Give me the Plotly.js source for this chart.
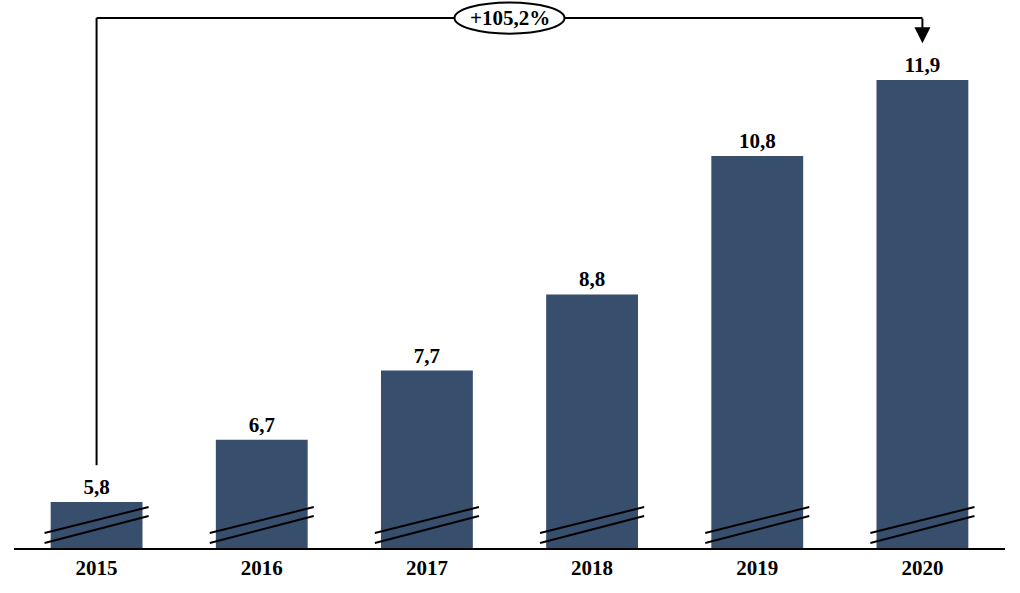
<!DOCTYPE html>
<html>
<head>
<meta charset="utf-8">
<script src="https://cdn.plot.ly/plotly-3.0.1.min.js"></script>
<style>html,body{margin:0;padding:0;background:#fff;}#chart{width:1020px;height:593px;}</style>
</head>
<body>
<div id="chart"></div>
<script>
const years = ['2015', '2016', '2017', '2018', '2019', '2020'];
const values = [5.8, 6.7, 7.7, 8.8, 10.8, 11.9];

const barColor = '#374e6d';
const fontFam = '"Liberation Serif", "Times New Roman", serif';
const yMin = 5.135, yMax = 13.055;

const first = values[0], last = values[values.length - 1];
const growth = (last / first - 1) * 100;
const growthText = '+' + growth.toFixed(1).replace('.', ',') + '%';

const shapes = [];
// broken-axis marks on each bar
years.forEach((y, i) => {
  const x0 = i - 0.315, x1 = i + 0.315;
  shapes.push({type: 'line', xref: 'x', yref: 'y', x0: x0, x1: x1, y0: 5.352, y1: 5.727,
    line: {color: '#000', width: 2}});
  shapes.push({type: 'line', xref: 'x', yref: 'y', x0: x0, x1: x1, y0: 5.207, y1: 5.597,
    line: {color: '#000', width: 2}});
});
const n = years.length - 1;
const topY = 12.794;
// bracket
shapes.push({type: 'line', xref: 'x', yref: 'y', x0: 0, x1: 0, y0: first + 0.53, y1: topY,
  line: {color: '#000', width: 2}});
shapes.push({type: 'line', xref: 'x', yref: 'y', x0: 0, x1: n, y0: topY, y1: topY,
  line: {color: '#000', width: 2}});
shapes.push({type: 'circle', xref: 'x', yref: 'y', x0: n / 2 - 0.333, x1: n / 2 + 0.333,
  y0: topY - 0.225, y1: topY + 0.225, fillcolor: '#fff', line: {color: '#000', width: 2}});

const annotations = [
  {x: n / 2, y: topY, xref: 'x', yref: 'y', text: growthText, showarrow: false,
   font: {family: fontFam, size: 21, color: '#000', weight: 'bold'}},
  {x: n, y: last + 0.53, xref: 'x', yref: 'y', ax: n, ay: topY + 0.015, axref: 'x', ayref: 'y',
   showarrow: true, arrowhead: 2, arrowsize: 1.6, arrowwidth: 2, arrowcolor: '#000', text: ''}
];

const trace = {
  type: 'bar', x: years, y: values,
  marker: {color: barColor},
  width: 0.556,
  text: values.map(v => v.toFixed(1).replace('.', ',')),
  textposition: 'outside',
  cliponaxis: false,
  textfont: {family: fontFam, size: 21, color: '#000', weight: 'bold'},
  hoverinfo: 'none'
};

const layout = {
  width: 1020, height: 593,
  margin: {l: 14, r: 15, t: 0, b: 45},
  paper_bgcolor: '#fff', plot_bgcolor: '#fff',
  showlegend: false,
  bargap: 0.444,
  xaxis: {type: 'category', showline: true, linecolor: '#000', linewidth: 1.5,
    ticks: '', showgrid: false, zeroline: false,
    tickfont: {family: fontFam, size: 21, color: '#000', weight: 'bold'}},
  yaxis: {range: [yMin, yMax], visible: false, showgrid: false, zeroline: false},
  shapes: shapes,
  annotations: annotations
};

Plotly.newPlot('chart', [trace], layout, {displayModeBar: false, staticPlot: true});
</script>
</body>
</html>
